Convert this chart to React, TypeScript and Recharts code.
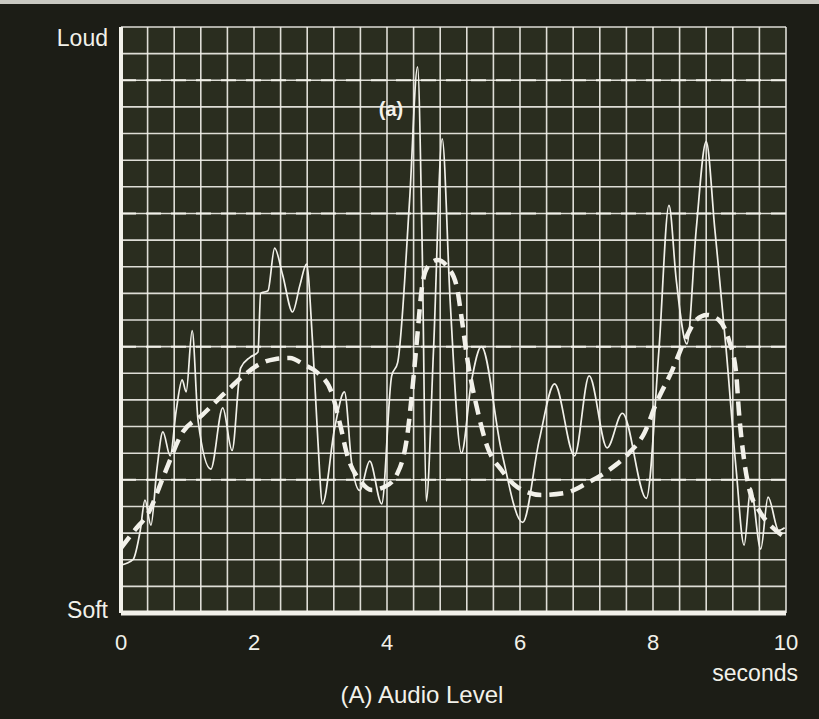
import { LineChart, Line, XAxis, YAxis, CartesianGrid, ReferenceLine } from 'recharts';

// thin trace: raw audio level (time in seconds, level in grid divisions, 0 = soft, 22 = loud)
const audioTime = [
    0.0, 0.18, 0.29, 0.36, 0.45, 0.54, 0.63, 0.74, 0.83, 0.92, 0.98, 1.07, 1.16, 1.35, 1.53, 1.67, 1.8, 1.94,
    2.06, 2.1, 2.21, 2.31, 2.43, 2.58, 2.69, 2.79, 2.88, 2.96, 3.03, 3.21, 3.36, 3.47, 3.59, 3.74, 3.92,
    4.07, 4.16, 4.34, 4.46, 4.53, 4.59, 4.7, 4.83, 4.95, 5.12, 5.27, 5.42, 5.72, 6.04, 6.29, 6.52, 6.82,
    7.04, 7.31, 7.54, 7.9, 8.09, 8.24, 8.35, 8.51, 8.65, 8.8, 8.93, 9.1, 9.25, 9.37, 9.47, 9.62, 9.73, 9.89, 9.98,
];
const audioLevel = [
    1.8, 2.0, 3.1, 4.24, 3.3, 5.4, 6.8, 5.9, 7.6, 8.75, 8.3, 10.6, 7.2, 5.4, 7.7, 6.1, 9.2, 9.6,
    9.8, 12.0, 12.1, 13.7, 12.7, 11.3, 12.3, 13.1, 10.2, 6.5, 4.1, 6.9, 8.3, 5.6, 4.6, 5.7, 4.1,
    8.9, 9.4, 15.5, 20.5, 13.6, 4.2, 9.9, 17.8, 11.7, 6.0, 8.7, 10.0, 6.1, 3.4, 6.5, 8.6, 5.9,
    8.9, 6.2, 7.5, 4.3, 9.9, 15.3, 12.5, 10.1, 14.4, 17.7, 14.4, 9.9, 5.4, 2.55, 4.7, 2.4, 4.35, 3.1, 3.2,
];

// thick dashed trace: smoothed envelope
const envTime = [
    0.0, 0.21, 0.41, 0.66, 0.92, 1.22, 1.56, 1.82, 2.06, 2.31, 2.54, 2.76, 2.96, 3.17, 3.29, 3.41, 3.59,
    3.77, 3.96, 4.16, 4.31, 4.38, 4.46, 4.52, 4.61, 4.76, 4.91, 5.05, 5.12, 5.21, 5.36, 5.51, 5.72, 5.96,
    6.32, 6.67, 7.01, 7.34, 7.64, 7.87, 8.05, 8.29, 8.5, 8.65, 8.81, 8.99, 9.14, 9.25, 9.29, 9.37, 9.44,
    9.59, 9.79, 9.98,
];
const envLevel = [
    2.44, 3.12, 3.75, 5.26, 6.76, 7.43, 8.26, 8.86, 9.31, 9.53, 9.57, 9.31, 9.01, 8.26, 7.13, 5.86, 4.99,
    4.62, 4.73, 5.26, 6.76, 8.37, 10.51, 12.12, 12.99, 13.25, 12.99, 12.24, 11.11, 9.5, 7.62, 6.23, 5.37, 4.73,
    4.43, 4.5, 4.88, 5.37, 6.01, 6.76, 7.88, 9.12, 10.36, 11.0, 11.19, 11.0, 10.25, 9.01, 7.62, 5.74, 4.73,
    3.87, 3.23, 2.85,
];

const levelLines = [5, 10, 15, 20];
const xLabels = [0, 2, 4, 6, 8, 10];

const gridX = Array.from({ length: 26 }, (_, i) => (i * 4) / 10);
const gridY = Array.from({ length: 23 }, (_, i) => i);

const audioData = audioTime.map((t, i) => ({ t, level: audioLevel[i] }));
const envData = envTime.map((t, i) => ({ t, env: envLevel[i] }));

const ink = '#f2f1ea';
const font = '"Liberation Sans", Arial, Helvetica, sans-serif';

const XTick = ({ x, y, payload }: any) => {
    if (!xLabels.includes(payload.value)) return null;
    return (
        <text x={x} y={y + 37} textAnchor="middle" fill={ink} fontSize={22} fontFamily={font}>
            {payload.value}
        </text>
    );
};

const YTick = ({ x, y, payload }: any) => {
    if (payload.value === 22) {
        return <text x={x - 13} y={y + 19} textAnchor="end" fill={ink} fontSize={23} fontFamily={font}>Loud</text>;
    }
    if (payload.value === 0) {
        return <text x={x - 13} y={y + 5} textAnchor="end" fill={ink} fontSize={23} fontFamily={font}>Soft</text>;
    }
    return null;
};

const App = () => {
    return (
        <div style={{ position: 'relative', width: 819, height: 719, background: '#1c1d16' }}>
            <style>{'body { margin: 0; }'}</style>
            <div style={{ position: 'absolute', left: 0, top: 0, width: 819, height: 4, background: '#c9c9c2' }} />
            <LineChart width={819} height={719} margin={{ top: 27, right: 33, left: 0, bottom: 0 }}>
                <CartesianGrid
                    stroke={ink}
                    strokeWidth={1.6}
                    strokeOpacity={0.9}
                    fill="#2a2d1f"
                    fillOpacity={1}
                />
                <XAxis
                    dataKey="t"
                    type="number"
                    domain={[0, 10]}
                    ticks={gridX}
                    interval={0}
                    height={106}
                    tickSize={0}
                    tickMargin={0}
                    tick={<XTick />}
                    axisLine={{ stroke: ink, strokeWidth: 5 }}
                    allowDataOverflow
                />
                <YAxis
                    type="number"
                    domain={[0, 22]}
                    ticks={gridY}
                    interval={0}
                    width={121}
                    tickSize={0}
                    tickMargin={0}
                    tick={<YTick />}
                    axisLine={{ stroke: ink, strokeWidth: 4 }}
                    allowDataOverflow
                />
                {levelLines.map((v) => (
                    <ReferenceLine key={v} y={v} stroke={ink} strokeWidth={2} strokeDasharray="15 10" />
                ))}
                <Line
                    data={audioData}
                    dataKey="level"
                    type="monotone"
                    stroke={ink}
                    strokeWidth={1.7}
                    dot={false}
                    isAnimationActive={false}
                />
                <Line
                    data={envData}
                    dataKey="env"
                    type="monotone"
                    stroke={ink}
                    strokeWidth={4.5}
                    strokeDasharray="14 8"
                    dot={false}
                    isAnimationActive={false}
                />
            </LineChart>
            <svg width={819} height={719} style={{ position: 'absolute', left: 0, top: 0, pointerEvents: 'none' }}>
                <text x={391} y={116} textAnchor="middle" fill={ink} fontSize={20} fontWeight="bold" fontFamily={font}>(a)</text>
                <text x={798} y={681} textAnchor="end" fill={ink} fontSize={23} fontFamily={font}>seconds</text>
                <text x={422} y={703} textAnchor="middle" fill={ink} fontSize={24} fontFamily={font}>(A) Audio Level</text>
            </svg>
        </div>
    );
};

export default App;
